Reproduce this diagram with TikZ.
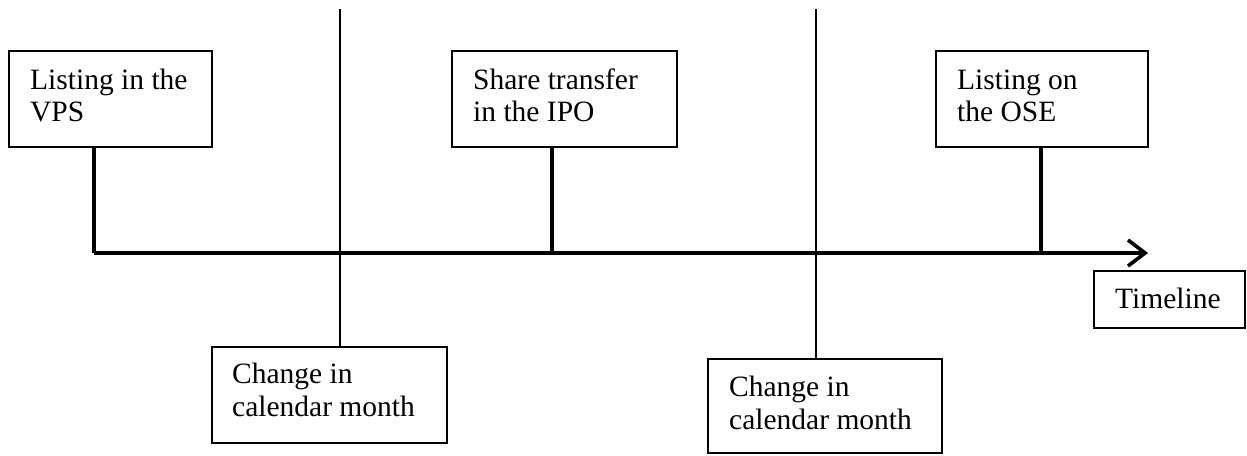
\documentclass[tikz,border=0pt]{standalone}
\usepackage{fontspec}
\setmainfont{Liberation Serif}
\usetikzlibrary{arrows.meta}
\begin{document}
\begin{tikzpicture}[x=1pt,y=-1pt,
  box/.style={draw,line width=1.8pt,rectangle,inner sep=0pt},
  lbl/.style={anchor=base west,inner sep=0pt,font=\fontsize{29.5}{32}\selectfont},
  thin/.style={line width=1.8pt},
  thick/.style={line width=3.6pt}]
\useasboundingbox (0,0) rectangle (1247,455);
% boxes
\node[box,minimum width=203pt,minimum height=96pt] (b1) at (110.5,99) {};
\node[box,minimum width=225pt,minimum height=96pt] (b3) at (564.5,99) {};
\node[box,minimum width=212pt,minimum height=96pt] (b5) at (1042,99) {};
\node[box,minimum width=235pt,minimum height=96pt] (b2) at (329.5,395) {};
\node[box,minimum width=234pt,minimum height=94pt] (b4) at (825,406) {};
\node[box,minimum width=151pt,minimum height=57pt] (bt) at (1169.5,299.5) {};
% texts
\node[lbl] (l1a) at (30,89) {Listing in the};
\node[lbl] (l1b) at (30,121) {VPS};
\node[lbl] (l3a) at (473,89) {Share transfer};
\node[lbl] (l3b) at (473,121) {in the IPO};
\node[lbl] (l5a) at (957,89) {Listing on};
\node[lbl] (l5b) at (957,121) {the OSE};
\node[lbl] (l2a) at (232,383) {Change in};
\node[lbl] (l2b) at (232,416) {calendar month};
\node[lbl] (l4a) at (729,396) {Change in};
\node[lbl] (l4b) at (729,429) {calendar month};
\node[lbl] (lt) at (1115,308) {Timeline};
% timeline
\coordinate (t1) at (94,253);
\coordinate (t3) at (552,253);
\coordinate (t5) at (1041,253);
\coordinate (te) at (1148,253);
\coordinate (m1) at (340,9);
\coordinate (m2) at (816,9);
\draw[thick,-{Straight Barb[length=17pt,width=26pt,line width=3.6pt]}] (t1) -- (te);
\draw[thick] (b1.south -| t1) -- (t1);
\draw[thick] (b3.south -| t3) -- (t3);
\draw[thick] (b5.south -| t5) -- (t5);
\draw[thin] (m1) -- (m1 |- b2.north);
\draw[thin] (m2) -- (m2 |- b4.north);
\end{tikzpicture}
\end{document}
